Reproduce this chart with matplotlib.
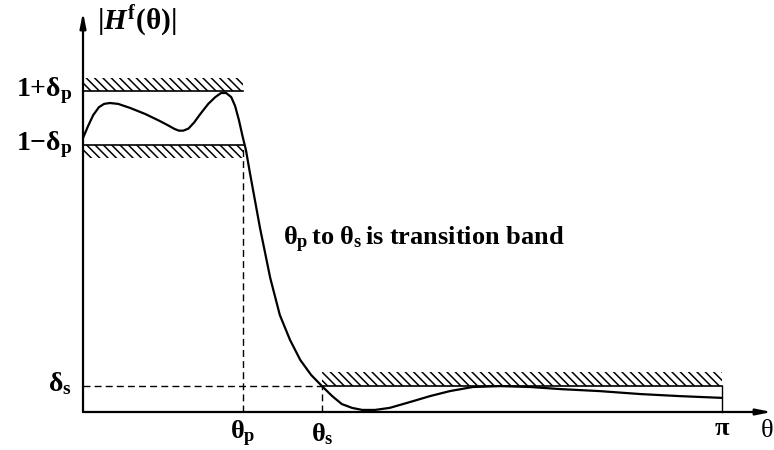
#!/usr/bin/env python3
"""Lowpass filter tolerance scheme: |H^f(theta)| with pass/stop band limits."""

import numpy as np
import matplotlib
matplotlib.use("Agg")
import matplotlib.pyplot as plt

# Configuration
plt.rcParams['font.family'] = ['Liberation Serif', 'DejaVu Serif']
plt.rcParams['font.weight'] = 'bold'
plt.rcParams['mathtext.fontset'] = 'custom'
plt.rcParams['mathtext.rm'] = 'Liberation Serif:bold'
plt.rcParams['mathtext.it'] = 'Liberation Serif:italic:bold'
plt.rcParams['mathtext.bf'] = 'Liberation Serif:bold'
plt.rcParams['hatch.linewidth'] = 1.1

# Band edges (in units of pi) and tolerances
theta_p = 0.25
theta_s = 0.374
delta_p = 0.092
delta_s = 0.09
hatch_h = 0.045

# Magnitude response (theta / pi, |H|)
theta_frac = [0.000, 0.008, 0.016, 0.025, 0.033, 0.042, 0.055, 0.074, 0.097, 0.120,
              0.134, 0.143, 0.150, 0.157, 0.165, 0.174, 0.183, 0.196, 0.207, 0.216,
              0.224, 0.232, 0.238, 0.244, 0.250, 0.255, 0.261, 0.269, 0.277, 0.293,
              0.308, 0.324, 0.340, 0.357, 0.374, 0.390, 0.405, 0.421, 0.437, 0.457,
              0.480, 0.512, 0.543, 0.574, 0.610, 0.653, 0.700, 0.746, 0.809, 0.872,
              0.934, 1.000]
magnitude = [0.932, 0.973, 1.010, 1.037, 1.048, 1.051, 1.048, 1.034, 1.014, 0.990,
             0.974, 0.963, 0.957, 0.957, 0.964, 0.985, 1.012, 1.048, 1.071, 1.085,
             1.085, 1.071, 1.041, 0.993, 0.935, 0.891, 0.816, 0.721, 0.626, 0.456,
             0.330, 0.245, 0.177, 0.126, 0.088, 0.054, 0.027, 0.014, 0.007, 0.007,
             0.014, 0.034, 0.054, 0.071, 0.085, 0.088, 0.085, 0.078, 0.071, 0.061,
             0.054, 0.048]

PI = np.pi
FS = 19
HATCH = '\\\\\\\\'

fig = plt.figure(figsize=(7.74, 4.5), dpi=100)
ax = fig.add_axes([0, 0, 1, 1])
ax.set_xlim(-0.1299 * PI, 1.0814 * PI)
ax.set_ylim(-0.1293, 1.4014)
ax.axis('off')

th = np.array(theta_frac) * PI
ax.plot(th, magnitude, color='black', lw=1.6, solid_joinstyle='round',
        solid_capstyle='round', zorder=5)

# Axes with arrows
ax.annotate('', xy=(1.078 * PI, 0), xytext=(0, 0),
            arrowprops=dict(arrowstyle='-|>,head_length=0.9,head_width=0.18',
                            color='black', lw=1.6, shrinkA=0, shrinkB=0))
ax.annotate('', xy=(0, 1.36), xytext=(0, 0),
            arrowprops=dict(arrowstyle='-|>,head_length=0.9,head_width=0.18',
                            color='black', lw=1.6, shrinkA=0, shrinkB=0))

# Tolerance bands with hatching
pb = np.array([0, theta_p]) * PI
sb = np.array([theta_s, 1.0]) * PI
up, lo = 1 + delta_p, 1 - delta_p
ax.fill_between(pb, up, up + hatch_h, facecolor='none', edgecolor='black',
                hatch=HATCH, lw=0)
ax.fill_between(pb, lo - hatch_h, lo, facecolor='none', edgecolor='black',
                hatch=HATCH, lw=0)
ax.fill_between(sb, delta_s, delta_s + hatch_h, facecolor='none', edgecolor='black',
                hatch=HATCH, lw=0)
ax.plot(pb, [up, up], color='black', lw=1.2)
ax.plot(pb, [lo, lo], color='black', lw=1.2)
ax.plot(sb, [delta_s, delta_s], color='black', lw=1.2)
ax.plot([PI, PI], [0, delta_s], color='black', lw=1.0)

# Dashed guides
ax.plot([0, theta_s * PI], [delta_s, delta_s], color='black', lw=1.0, ls=(0, (5, 3)))
ax.plot([theta_p * PI] * 2, [0, lo], color='black', lw=1.0, ls=(0, (5, 3)))
ax.plot([theta_s * PI] * 2, [0, delta_s], color='black', lw=1.0, ls=(0, (5, 3)))

# Labels
lx = -0.017 * PI
ax.text(0.022 * PI, 1.33, r'$|H^{\mathrm{f}}(\mathrm{θ})|$', fontsize=21,
        ha='left', va='center')
ax.text(lx, up + 0.002, r'1+$\mathrm{δ_p}$', fontsize=20, ha='right', va='center')
ax.text(lx, lo + 0.002, r'1$-$$\mathrm{δ_p}$', fontsize=20, ha='right', va='center')
ax.text(lx, delta_s + 0.005, r'$\mathrm{δ_s}$', fontsize=20, ha='right', va='center')
ax.text(theta_p * PI, -0.075, r'$\mathrm{θ_p}$', fontsize=FS, ha='center', va='center')
ax.text(theta_s * PI, -0.075, r'$\mathrm{θ_s}$', fontsize=FS, ha='center', va='center')
ax.text(PI, -0.055, 'π', fontsize=FS, ha='center', va='center')
ax.text(1.081 * PI, -0.065, 'θ', fontsize=FS, ha='right', va='center',
        fontweight='normal')
ax.text(0.313 * PI, 0.585, r'$\mathrm{θ_p}\,$to $\mathrm{θ_s}\,$is transition band',
        fontsize=FS, ha='left', va='center')

fig.savefig('out.png', dpi=100)
plt.close(fig)
